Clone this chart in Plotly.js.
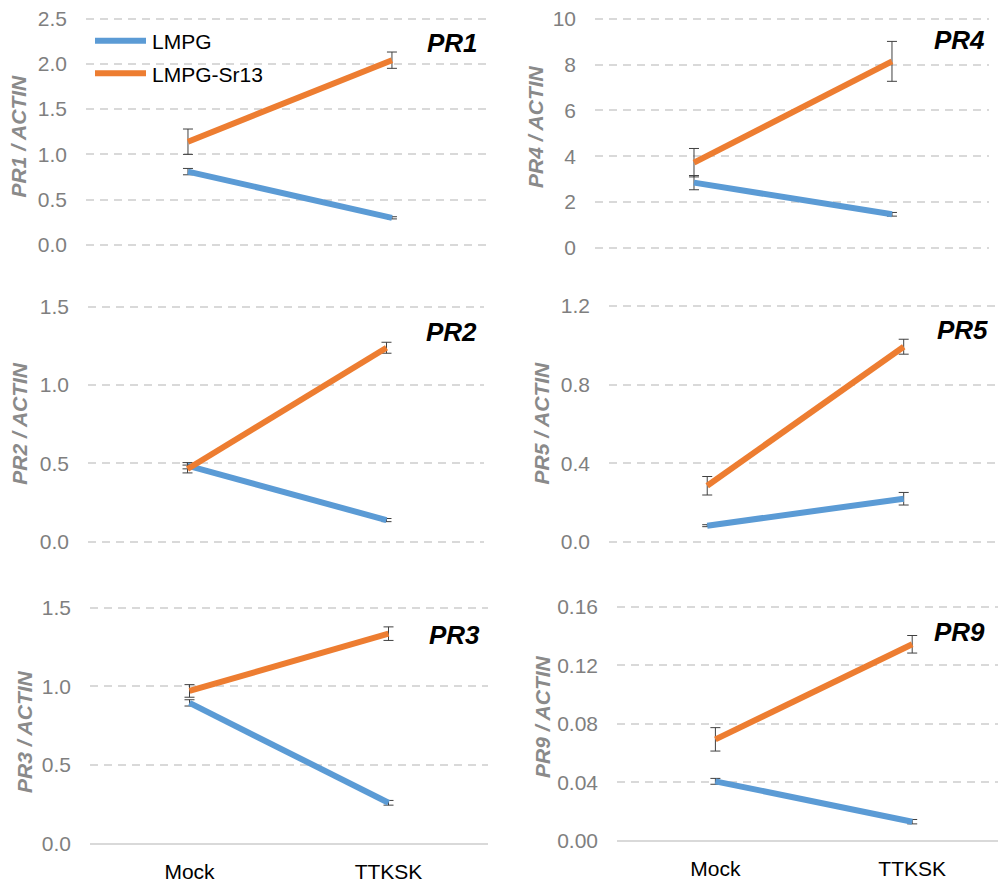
<!DOCTYPE html>
<html>
<head>
<meta charset="utf-8">
<script src="https://cdn.plot.ly/plotly-3.0.1.min.js"></script>
<style>html,body{margin:0;padding:0;background:#fff;}#chart{width:998px;height:882px;}</style>
</head>
<body>
<div id="chart"></div>
<script>
// ---- data ----
var categories = ['Mock', 'TTKSK'];
var seriesNames = ['LMPG', 'LMPG-Sr13'];
var genes = ['PR1', 'PR4', 'PR2', 'PR5', 'PR3', 'PR9'];

var PR1_LMPG = [0.81, 0.30];     var PR1_LMPG_err = [0.035, 0.012];
var PR1_Sr13 = [1.14, 2.04];     var PR1_Sr13_err = [0.14, 0.09];
var PR4_LMPG = [2.85, 1.47];     var PR4_LMPG_err = [0.31, 0.08];
var PR4_Sr13 = [3.72, 8.14];     var PR4_Sr13_err = [0.62, 0.87];
var PR2_LMPG = [0.485, 0.138];   var PR2_LMPG_err = [0.02, 0.01];
var PR2_Sr13 = [0.464, 1.238];   var PR2_Sr13_err = [0.025, 0.035];
var PR5_LMPG = [0.083, 0.22];    var PR5_LMPG_err = [0.005, 0.032];
var PR5_Sr13 = [0.286, 0.993];   var PR5_Sr13_err = [0.047, 0.038];
var PR3_LMPG = [0.895, 0.26];    var PR3_LMPG_err = [0.02, 0.015];
var PR3_Sr13 = [0.971, 1.335];   var PR3_Sr13_err = [0.04, 0.043];
var PR9_LMPG = [0.0406, 0.013];  var PR9_LMPG_err = [0.002, 0.0015];
var PR9_Sr13 = [0.0693, 0.1343]; var PR9_Sr13_err = [0.008, 0.006];

var yMax = [2.5, 10, 1.5, 1.2, 1.5, 0.16];
var yDtick = [0.5, 2, 0.5, 0.4, 0.5, 0.04];
var yFormat = ['.1f', 'd', '.1f', '.1f', '.1f', '.2f'];

var lmpgData = [PR1_LMPG, PR4_LMPG, PR2_LMPG, PR5_LMPG, PR3_LMPG, PR9_LMPG];
var lmpgErr = [PR1_LMPG_err, PR4_LMPG_err, PR2_LMPG_err, PR5_LMPG_err, PR3_LMPG_err, PR9_LMPG_err];
var sr13Data = [PR1_Sr13, PR4_Sr13, PR2_Sr13, PR5_Sr13, PR3_Sr13, PR9_Sr13];
var sr13Err = [PR1_Sr13_err, PR4_Sr13_err, PR2_Sr13_err, PR5_Sr13_err, PR3_Sr13_err, PR9_Sr13_err];

// ---- layout geometry (pixels) ----
var W = 998, H = 882;
function px(x) { return x / W; }
function py(y) { return 1 - y / H; }
var xDom = [[86, 487], [595, 989], [88, 484], [609, 998], [90, 488], [617, 998]];
var yDom = [[18.5, 245], [18.7, 248], [306.7, 541.7], [306, 542], [607.7, 843.7], [606.7, 840.7]];
var xRng = [[-0.5, 1.466], [-0.5, 1.49], [-0.5, 1.49], [-0.5, 1.48], [-0.5, 1.5], [-0.5, 1.436]];
var titleX = [17.5, 535, 18.7, 540.5, 24, 542];
var titleY = [136, 127, 423, 423, 732, 717];
var labelRight = [480, 987, 479, 990, 482, 987];
var labelY = [43, 40.5, 331.5, 329.5, 635, 632];
var PAD = 3; // px of slack so edge gridlines are drawn

var colors = ['#5B9BD5', '#ED7D31'];
var FONT = 'Liberation Sans, Arial, Helvetica, sans-serif';

var traces = [];
var layout = {
  width: W, height: H,
  margin: {l: 0, r: 0, t: 0, b: 0},
  paper_bgcolor: '#ffffff', plot_bgcolor: '#ffffff',
  showlegend: false,
  font: {family: FONT},
  annotations: [], shapes: []
};

for (var i = 0; i < 6; i++) {
  var sfx = i === 0 ? '' : String(i + 1);
  var bottom = (i >= 4);
  var sets = [[lmpgData[i], lmpgErr[i]], [sr13Data[i], sr13Err[i]]];
  for (var s = 0; s < 2; s++) {
    traces.push({
      type: 'scatter', mode: 'lines',
      x: categories, y: sets[s][0],
      name: seriesNames[s],
      xaxis: 'x' + sfx, yaxis: 'y' + sfx,
      line: {color: colors[s], width: 6},
      error_y: {type: 'data', array: sets[s][1], visible: true, color: '#404040', thickness: 1, width: 5},
      cliponaxis: false, hoverinfo: 'x+y'
    });
  }
  var upp = yMax[i] / (yDom[i][1] - yDom[i][0]);
  layout['xaxis' + sfx] = {
    type: 'category', domain: [px(xDom[i][0]), px(xDom[i][1])],
    range: xRng[i], anchor: 'y' + sfx,
    showgrid: false, zeroline: false, showline: false, ticks: '',
    showticklabels: bottom, ticklabelstandoff: 10,
    tickfont: {family: FONT, size: 21, color: '#000000'},
    fixedrange: true
  };
  layout['yaxis' + sfx] = {
    domain: [py(yDom[i][1] + PAD), py(yDom[i][0] - PAD)],
    range: [-PAD * upp, yMax[i] + PAD * upp], anchor: 'x' + sfx,
    dtick: yDtick[i], tick0: 0, tickformat: yFormat[i],
    showgrid: true, gridcolor: '#d9d9d9', gridwidth: 2, griddash: '8px,6px',
    zeroline: bottom, zerolinecolor: '#d9d9d9', zerolinewidth: 2,
    showline: false, ticks: '', ticklabelstandoff: 18,
    tickfont: {family: FONT, size: 21, color: '#7f7f7f'},
    fixedrange: true
  };
  // axis title
  layout.annotations.push({
    xref: 'paper', yref: 'paper', x: px(titleX[i]), y: py(titleY[i]),
    xanchor: 'center', yanchor: 'middle', textangle: -90, showarrow: false,
    text: '<b><i>' + genes[i] + ' / ACTIN</i></b>',
    font: {family: FONT, size: 21, color: '#8a8a8a'}
  });
  // panel label
  layout.annotations.push({
    xref: 'paper', yref: 'paper', x: px(labelRight[i]), y: py(labelY[i]),
    xanchor: 'right', yanchor: 'middle', showarrow: false,
    text: '<b><i>' + genes[i] + '</i></b>',
    font: {family: FONT, size: 26, color: '#000000'}
  });
}

// legend (drawn in the PR1 panel)
var legY = [40.7, 73.3];
for (var k = 0; k < 2; k++) {
  layout.shapes.push({
    type: 'line', xref: 'paper', yref: 'paper',
    x0: px(95), x1: px(146), y0: py(legY[k]), y1: py(legY[k]),
    line: {color: colors[k], width: 6}
  });
  layout.annotations.push({
    xref: 'paper', yref: 'paper', x: px(150), y: py(legY[k] + 1),
    xanchor: 'left', yanchor: 'middle', showarrow: false,
    text: seriesNames[k], font: {family: FONT, size: 21, color: '#000000'}
  });
}

Plotly.newPlot('chart', traces, layout, {displayModeBar: false, staticPlot: true});
</script>
</body>
</html>
